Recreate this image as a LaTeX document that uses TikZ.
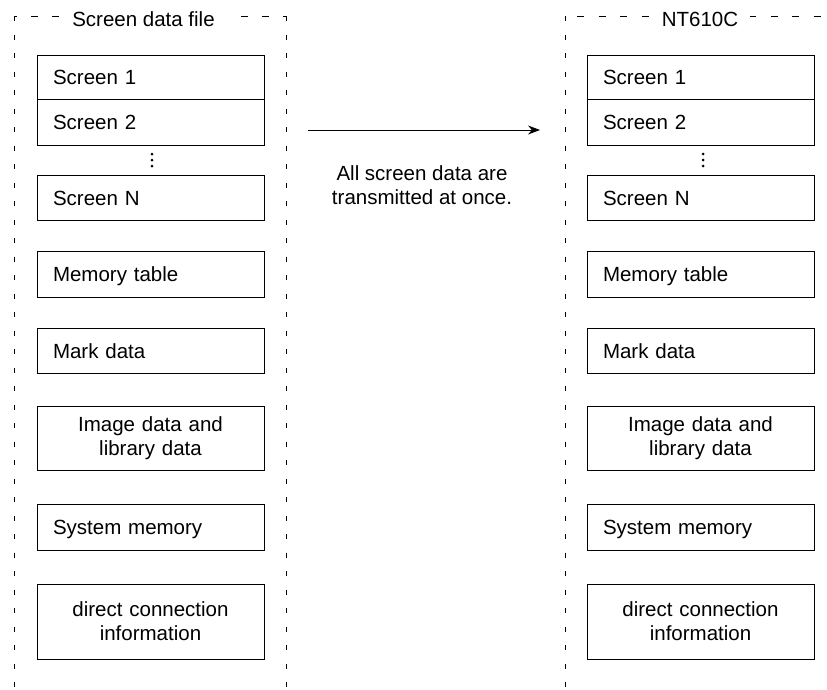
\documentclass[tikz,border=0pt]{standalone}
\usepackage{fontspec}
\setmainfont{Liberation Sans}
\usetikzlibrary{arrows.meta}
\begin{document}
\begin{tikzpicture}[x=1pt,y=-1pt,
  lbl/.style={font=\fontsize{20.5}{24}\selectfont},
  box/.style={draw, line width=0.9pt, anchor=north west, outer sep=0pt,
    inner xsep=16pt, inner ysep=0pt, text width=195pt, minimum height=45pt,
    align=left, text height=15pt, text depth=0pt, lbl},
  cbox/.style={draw, line width=0.9pt, anchor=north west, outer sep=0pt,
    inner xsep=16pt, inner ysep=0pt, text width=195pt, minimum height=45pt,
    align=center, lbl},
  hframeL/.style={line width=0.8pt, dash pattern=on 7pt off 14pt, dash phase=4pt},
  hframeR/.style={line width=0.8pt, dash pattern=on 7pt off 14.5pt, dash phase=9.5pt},
  vframe/.style={line width=0.8pt, dash pattern=on 5pt off 13.5pt},
  ttl/.style={lbl, fill=white, inner xsep=12pt, inner ysep=2pt, anchor=base},
  dotmark/.style={circle, fill, inner sep=0pt, minimum size=3pt},
  arr/.style={line width=0.9pt, -{Stealth[length=12pt,width=9pt]}}]
\useasboundingbox (0,0) rectangle (827,689);
\clip (0,0) rectangle (827,689);

% left frame
\coordinate (lfa) at (14,16);
\coordinate (lfb) at (286,16);
\coordinate (lfc) at (14,700);
\coordinate (lfd) at (286,700);
\draw[vframe] (lfa) -- (lfc);
\draw[vframe] (lfb) -- (lfd);
\draw[hframeL] (lfa) -- (lfb);
\node[ttl] (ltitle) at (143.5,26.5) {Screen data file};

% right frame
\coordinate (rfa) at (565,16);
\coordinate (rfb) at (837,16);
\coordinate (rfc) at (565,700);
\coordinate (rfd) at (837,700);
\draw[vframe] (rfa) -- (rfc);
\draw[vframe] (rfb) -- (rfd);
\draw[hframeR] (rfa) -- (rfb);
\node[ttl] (rtitle) at (700,26.5) {NT610C};

% left boxes
\node[box, minimum height=44pt] (l1) at (37,55) {Screen 1};
\node[box, minimum height=46pt] (l2) at (37,99) {Screen 2};
\node[dotmark] (ld1) at (152,154) {};
\node[dotmark] (ld2) at (152,160) {};
\node[dotmark] (ld3) at (152,166) {};
\node[box, minimum height=45pt] (lN) at (37,175) {Screen N};
\node[box, minimum height=46pt] (lmem) at (37,251) {Memory table};
\node[box, minimum height=45pt] (lmark) at (37,328) {Mark data};
\node[cbox, minimum height=64pt] (limg) at (37,406) {Image data and\\library data};
\node[box, minimum height=46pt] (lsys) at (37,504) {System memory};
\node[cbox, minimum height=75pt] (ldir) at (37,584) {direct connection\\information};

% right boxes
\node[box, minimum height=44pt] (r1) at (587,55) {Screen 1};
\node[box, minimum height=46pt] (r2) at (587,99) {Screen 2};
\node[dotmark] (rd1) at (703,154) {};
\node[dotmark] (rd2) at (703,160) {};
\node[dotmark] (rd3) at (703,166) {};
\node[box, minimum height=45pt] (rN) at (587,175) {Screen N};
\node[box, minimum height=46pt] (rmem) at (587,251) {Memory table};
\node[box, minimum height=45pt] (rmark) at (587,328) {Mark data};
\node[cbox, minimum height=64pt] (rimg) at (587,406) {Image data and\\library data};
\node[box, minimum height=46pt] (rsys) at (587,504) {System memory};
\node[cbox, minimum height=75pt] (rdir) at (587,584) {direct connection\\information};

% arrow and message
\coordinate (as) at (308,130);
\coordinate (ae) at (540,130);
\draw[arr] (as) -- (ae);
\node[lbl, align=center] (msg) at (422,185) {All screen data are\\transmitted at once.};
\end{tikzpicture}
\end{document}
